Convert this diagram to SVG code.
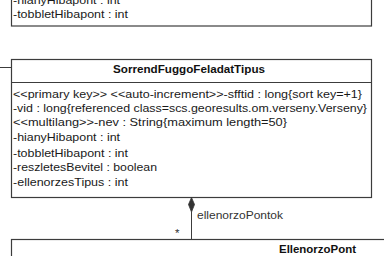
<svg xmlns="http://www.w3.org/2000/svg" width="384" height="256" viewBox="0 0 384 256">
  <style>
    .box { fill: #ffffff; stroke: #3c3c3c; stroke-width: 1.2; }
    .div { stroke: #3c3c3c; stroke-width: 1.2; }
    .attr { font-family: "Liberation Sans", Arial, sans-serif; font-size: 11.5px; fill: #1a1a1a; }
    .title { font-family: "Liberation Sans", Arial, sans-serif; font-size: 11.5px; font-weight: bold; fill: #111111; }
    .edge { fill: none; stroke: #3c3c3c; stroke-width: 1; }
    .lbl { font-family: "Liberation Sans", Arial, sans-serif; font-size: 11.5px; fill: #333333; }
  </style>
  <rect width="384" height="256" fill="#ffffff"/>

  <!-- class above (only its last attributes are in view) -->
  <g id="upper-class">
    <rect class="box" x="11.5" y="-40" width="360" height="66"/>
    <text class="attr" x="13" y="3.5" textLength="107" lengthAdjust="spacingAndGlyphs">-hianyHibapont : int</text>
    <text class="attr" x="13" y="17.5" textLength="115" lengthAdjust="spacingAndGlyphs">-tobbletHibapont : int</text>
  </g>

  <!-- SorrendFuggoFeladatTipus -->
  <g id="SorrendFuggoFeladatTipus">
    <rect class="box" x="11.5" y="59.5" width="360" height="138"/>
    <text class="title" x="113" y="73" textLength="152" lengthAdjust="spacingAndGlyphs">SorrendFuggoFeladatTipus</text>
    <line class="div" x1="11.5" y1="82.5" x2="371.5" y2="82.5"/>
    <text class="attr" x="13" y="98" textLength="349" lengthAdjust="spacingAndGlyphs">&lt;&lt;primary key&gt;&gt; &lt;&lt;auto-increment&gt;&gt;-sfftid : long{sort key=+1}</text>
    <text class="attr" x="13" y="112" textLength="354" lengthAdjust="spacingAndGlyphs">-vid : long{referenced class=scs.georesults.om.verseny.Verseny}</text>
    <text class="attr" x="13" y="126" textLength="274" lengthAdjust="spacingAndGlyphs">&lt;&lt;multilang&gt;&gt;-nev : String{maximum length=50}</text>
    <text class="attr" x="13" y="141" textLength="107" lengthAdjust="spacingAndGlyphs">-hianyHibapont : int</text>
    <text class="attr" x="13" y="156.5" textLength="115" lengthAdjust="spacingAndGlyphs">-tobbletHibapont : int</text>
    <text class="attr" x="13" y="171" textLength="144" lengthAdjust="spacingAndGlyphs">-reszletesBevitel : boolean</text>
    <text class="attr" x="13" y="186" textLength="115" lengthAdjust="spacingAndGlyphs">-ellenorzesTipus : int</text>
  </g>

  <!-- EllenorzoPont (header only in view) -->
  <g id="EllenorzoPont">
    <rect class="box" x="11.5" y="239.5" width="500" height="60"/>
    <text class="title" x="279" y="253" textLength="77" lengthAdjust="spacingAndGlyphs">EllenorzoPont</text>
  </g>

  <!-- connectors -->
  <g id="connectors">
    <line class="edge" x1="0" y1="67.5" x2="11" y2="67.5"/>
    <path class="edge" d="M191.5 212 V239"/>
    <path d="M191.5 197.5 L194.5 204.5 L191.5 212 L188.5 204.5 Z" fill="#333333" stroke="#333333" stroke-width="0.8"/>
    <text class="lbl" x="197" y="219" textLength="86" lengthAdjust="spacingAndGlyphs">ellenorzoPontok</text>
    <text class="lbl" x="175" y="237">*</text>
  </g>
</svg>
